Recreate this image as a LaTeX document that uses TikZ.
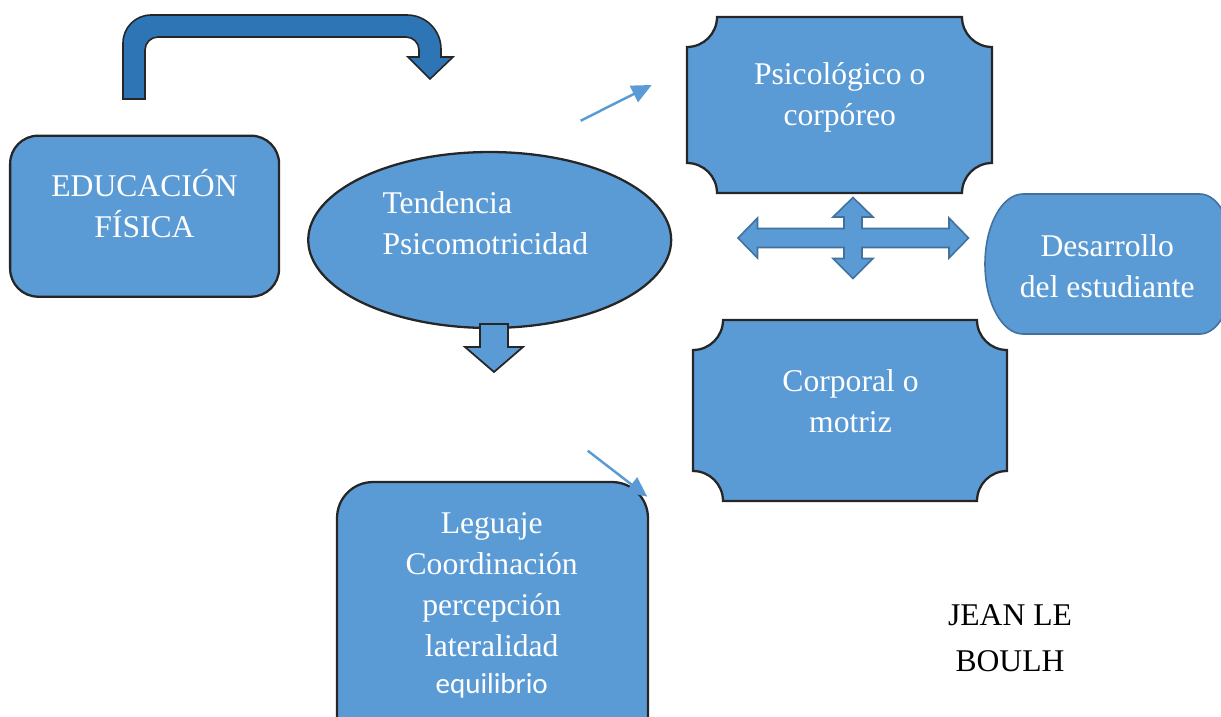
\documentclass[tikz,border=0pt]{standalone}
\usepackage{fontspec}
\setmainfont{Liberation Serif}
\newfontfamily\calibrifont{Carlito}
\usetikzlibrary{shapes.geometric,arrows.meta}
\definecolor{boxblue}{HTML}{5B9BD5}
\definecolor{darkblue}{HTML}{2E75B6}
\definecolor{edgeblue}{HTML}{41719C}
\definecolor{edgedark}{HTML}{262626}
\begin{document}
\begin{tikzpicture}[x=0.02cm,y=-0.02cm,
    blockbox/.style={draw=edgedark,line width=1.3pt,fill=boxblue,inner sep=0pt},
    blockarrow/.style={draw=edgedark,line width=1pt,fill=boxblue},
    lightshape/.style={draw=edgeblue,line width=0.9pt,fill=boxblue},
    boxtext/.style={text=white,align=center,inner sep=0pt,
      font=\fontsize{18}{23.3}\selectfont},
    thinarrow/.style={draw=boxblue,line width=1.4pt,
      -{Triangle[length=0.4cm,width=0.36cm]}}]
  \useasboundingbox (0,0) rectangle (1221,717);

  % left box and ellipse
  \node[blockbox,rounded corners=0.56cm,minimum width=5.38cm,minimum height=3.22cm]
    (edu) at (144.6,216.2) {};
  \node[boxtext] (edu text) at (144.5,204) {EDUCACIÓN\\FÍSICA};
  \node[blockbox,ellipse,minimum width=7.26cm,minimum height=3.52cm]
    (tend) at (489.7,240) {};
  \node[boxtext,align=left] (tend text) at (485.3,223) {Tendencia\\Psicomotricidad};

  % bent arrow over the top
  \draw[draw=edgedark,line width=0.9pt,fill=darkblue]
    (123,99) -- (123,43) arc[start angle=180,end angle=270,radius=28]
    -- (407,15) arc[start angle=270,end angle=360,radius=34]
    -- (441,57) -- (453,57) -- (430,79) -- (408,57) -- (419,57)
    -- (419,50) arc[start angle=0,end angle=-90,radius=13]
    -- (158,37) arc[start angle=-90,end angle=-180,radius=13]
    -- (145,99) -- cycle;

  % arrow down from the ellipse
  \draw[blockarrow] (480,324) -- (508,324) -- (508,347) -- (523,347)
    -- (494,372) -- (465,347) -- (480,347) -- cycle;

  % plaques
  \draw[blockbox] (717,17) -- (962,17) arc[start angle=180,end angle=90,radius=30]
    -- (992,163) arc[start angle=270,end angle=180,radius=30]
    -- (717,193) arc[start angle=0,end angle=-90,radius=30]
    -- (687,47) arc[start angle=90,end angle=0,radius=30] -- cycle;
  \node[boxtext] (psico) at (839.7,97.5) {Psicológico o\\corpóreo};
  \draw[blockbox] (723,320) -- (977,320) arc[start angle=180,end angle=90,radius=30]
    -- (1007,471) arc[start angle=270,end angle=180,radius=30]
    -- (723,501) arc[start angle=0,end angle=-90,radius=30]
    -- (693,350) arc[start angle=90,end angle=0,radius=30] -- cycle;
  \node[boxtext] (corp) at (850.5,401) {Corporal o\\motriz};

  % four way arrow
  \draw[lightshape] (853,197.5) -- (873,217) -- (862,217) -- (862,228.5)
    -- (949,228.5) -- (949,218) -- (968.5,238) -- (949,258) -- (949,247.5)
    -- (862,247.5) -- (862,258.5) -- (873,258.5) -- (853,278.5) -- (833,258.5)
    -- (844,258.5) -- (844,247.5) -- (757.5,247.5) -- (757.5,258) -- (738,238)
    -- (757.5,218) -- (757.5,228.5) -- (844,228.5) -- (844,217) -- (833,217) -- cycle;

  % right terminal
  \draw[lightshape] (1023,194) -- (1200,194)
    arc[start angle=-90,end angle=90,x radius=35,y radius=70]
    -- (1023,334) arc[start angle=90,end angle=270,x radius=38,y radius=70] -- cycle;
  \node[boxtext] (desa) at (1107.3,266) {Desarrollo\\del estudiante};

  % bottom list
  \node[blockbox,rounded corners=0.72cm,minimum width=6.22cm,minimum height=5.56cm]
    (lista) at (492.5,621) {};
  \node[boxtext] (lista text) at (491.7,605.5)
    {Leguaje\\Coordinación\\percepción\\lateralidad\\[-1.9pt]%
     {\calibrifont\fontsize{16.5}{20}\selectfont equilibrio}};

  \node[align=center,inner sep=0pt,font=\fontsize{18}{26}\selectfont]
    (autor) at (1010,638) {JEAN LE\\BOULH};

  % thin arrows
  \coordinate (a1) at (580.7,120.7);
  \coordinate (a2) at (651.7,85);
  \coordinate (b1) at (587.7,450.7);
  \coordinate (b2) at (647.3,496.7);
  \draw[thinarrow] (a1) -- (a2);
  \draw[thinarrow] (b1) -- (b2);
\end{tikzpicture}
\end{document}
